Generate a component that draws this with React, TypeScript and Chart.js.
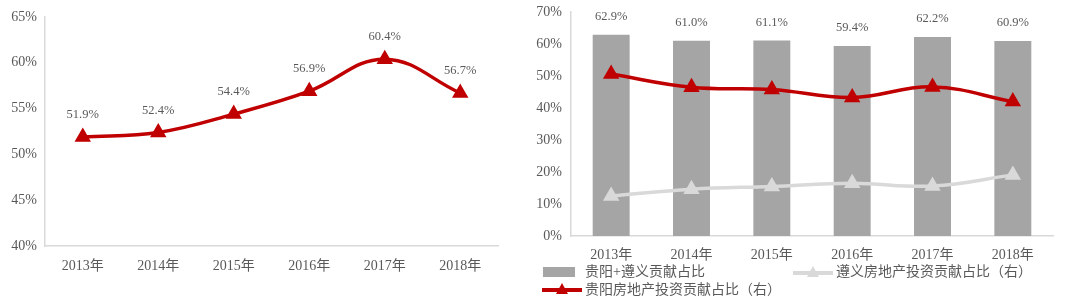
import React, { useEffect, useRef } from "react";
import { Chart, registerables } from "chart.js";

Chart.register(...registerables);

const years = ["2013年", "2014年", "2015年", "2016年", "2017年", "2018年"];
const leftValues = [51.9, 52.4, 54.4, 56.9, 60.4, 56.7];
const barValues = [62.9, 61.0, 61.1, 59.4, 62.2, 60.9];
const zunyiValues = [12.5, 14.6, 15.5, 16.5, 15.6, 19.1];
const guiyangValues = [50.6, 46.5, 45.8, 43.3, 46.6, 42.0];

const barLabel = "贵阳+遵义贡献占比";
const zunyiLabel = "遵义房地产投资贡献占比（右）";
const guiyangLabel = "贵阳房地产投资贡献占比（右）";

const RED = "#C00000";
const BAR = "#A5A5A5";
const LIGHT = "#D9D9D9";
const TEXT = "#595959";
const FONT = "'Liberation Serif', 'Noto Sans CJK SC', serif";

const valueLabelPlugin = {
  id: "valueLabels",
  afterDatasetsDraw(chart: any) {
    const ctx = chart.ctx;
    chart.data.datasets.forEach((ds: any, i: number) => {
      if (!ds.showValues) return;
      const meta = chart.getDatasetMeta(i);
      ctx.save();
      ctx.font = `12.5px ${FONT}`;
      ctx.fillStyle = TEXT;
      ctx.textAlign = "center";
      ctx.textBaseline = "middle";
      meta.data.forEach((el: any, j: number) => {
        const v = ds.data[j];
        ctx.fillText(v.toFixed(1) + "%", el.x, el.y - ds.labelOffset);
      });
      ctx.restore();
    });
  },
};

function LeftChart() {
  const ref = useRef<HTMLCanvasElement>(null);
  useEffect(() => {
    const chart = new Chart(ref.current!, {
      type: "line",
      data: {
        labels: years,
        datasets: [
          {
            data: leftValues,
            borderColor: RED,
            backgroundColor: RED,
            borderWidth: 3.5,
            pointStyle: "triangle",
            pointRadius: 6,
            pointBackgroundColor: RED,
            pointBorderColor: RED,
            tension: 0.4,
            showValues: true,
            labelOffset: 22,
          } as any,
        ],
      },
      options: {
        animation: false,
        responsive: false,
        maintainAspectRatio: false,
        layout: { padding: { top: 17, right: 32, bottom: 0, left: 0 } },
        plugins: { legend: { display: false }, tooltip: { enabled: false } },
        scales: {
          x: {
            offset: true,
            grid: { display: false, drawTicks: false },
            border: { display: true, color: LIGHT, width: 1.5 },
            ticks: { color: TEXT, font: { family: FONT, size: 14 }, padding: 12 },
            afterFit: (s: any) => { s.height = 57; },
          },
          y: {
            min: 40,
            max: 65,
            grid: { display: false, drawTicks: false },
            border: { display: true, color: LIGHT, width: 1.5 },
            ticks: {
              stepSize: 5,
              color: TEXT,
              font: { family: FONT, size: 14 },
              padding: 8,
              callback: (v: any) => v + "%",
            },
            afterFit: (s: any) => { s.width = 45; s.paddingTop = 0; s.paddingBottom = 0; },
          },
        },
      },
      plugins: [valueLabelPlugin],
    });
    return () => chart.destroy();
  }, []);
  return <canvas ref={ref} width={530} height={303} style={{ position: "absolute", left: 0, top: 0 }} />;
}

function RightChart() {
  const ref = useRef<HTMLCanvasElement>(null);
  useEffect(() => {
    const chart = new Chart(ref.current!, {
      type: "bar",
      data: {
        labels: years,
        datasets: [
          {
            type: "line",
            label: guiyangLabel,
            data: guiyangValues,
            yAxisID: "y1",
            borderColor: RED,
            backgroundColor: RED,
            borderWidth: 3.5,
            pointStyle: "triangle",
            pointRadius: 6,
            tension: 0.4,
            order: 0,
          } as any,
          {
            type: "line",
            label: zunyiLabel,
            data: zunyiValues,
            yAxisID: "y1",
            borderColor: LIGHT,
            backgroundColor: LIGHT,
            borderWidth: 3.5,
            pointStyle: "triangle",
            pointRadius: 6,
            tension: 0.4,
            order: 1,
          } as any,
          {
            type: "bar",
            label: barLabel,
            data: barValues,
            backgroundColor: BAR,
            barPercentage: 0.46,
            categoryPercentage: 1,
            order: 2,
            showValues: true,
            labelOffset: 18,
          } as any,
        ],
      },
      options: {
        animation: false,
        responsive: false,
        maintainAspectRatio: false,
        layout: { padding: { top: 12, right: 27, bottom: 0, left: 0 } },
        plugins: { legend: { display: false }, tooltip: { enabled: false } },
        scales: {
          x: {
            offset: true,
            grid: { display: false, drawTicks: false },
            border: { display: true, color: LIGHT, width: 1.5 },
            ticks: { color: TEXT, font: { family: FONT, size: 14 }, padding: 11 },
            afterFit: (s: any) => { s.height = 28; },
          },
          y: {
            min: 0,
            max: 70,
            grid: { display: false, drawTicks: false },
            border: { display: true, color: LIGHT, width: 1.5 },
            ticks: {
              stepSize: 10,
              color: TEXT,
              font: { family: FONT, size: 14 },
              padding: 9,
              callback: (v: any) => v + "%",
            },
            afterFit: (s: any) => { s.width = 41; s.paddingTop = 0; s.paddingBottom = 0; },
          },
          y1: {
            display: false,
            min: 0,
            max: 70,
          },
        },
      },
      plugins: [valueLabelPlugin],
    });
    return () => chart.destroy();
  }, []);
  return <canvas ref={ref} width={550} height={264} style={{ position: "absolute", left: 530, top: 0 }} />;
}

function LineSwatch({ color, left, top }: { color: string; left: number; top: number }) {
  return (
    <svg width={40} height={14} style={{ position: "absolute", left, top }}>
      <line x1={0} y1={8} x2={40} y2={8} stroke={color} strokeWidth={4} />
      <polygon points="20,1 26,12 14,12" fill={color} />
    </svg>
  );
}

const legendText: React.CSSProperties = {
  position: "absolute",
  fontFamily: FONT,
  fontSize: 14,
  color: TEXT,
  lineHeight: "16px",
  whiteSpace: "nowrap",
};

export default function App() {
  return (
    <div style={{ position: "absolute", left: 0, top: 0, width: 1080, height: 303, background: "#fff", overflow: "hidden" }}>
      <LeftChart />
      <RightChart />
      <div style={{ position: "absolute", left: 543, top: 267, width: 32, height: 10, background: BAR }} />
      <div style={{ ...legendText, left: 585, top: 264 }}>{barLabel}</div>
      <LineSwatch color={LIGHT} left={793} top={265} />
      <div style={{ ...legendText, left: 836, top: 264 }}>{zunyiLabel}</div>
      <LineSwatch color={RED} left={542} top={282} />
      <div style={{ ...legendText, left: 585, top: 282 }}>{guiyangLabel}</div>
    </div>
  );
}
